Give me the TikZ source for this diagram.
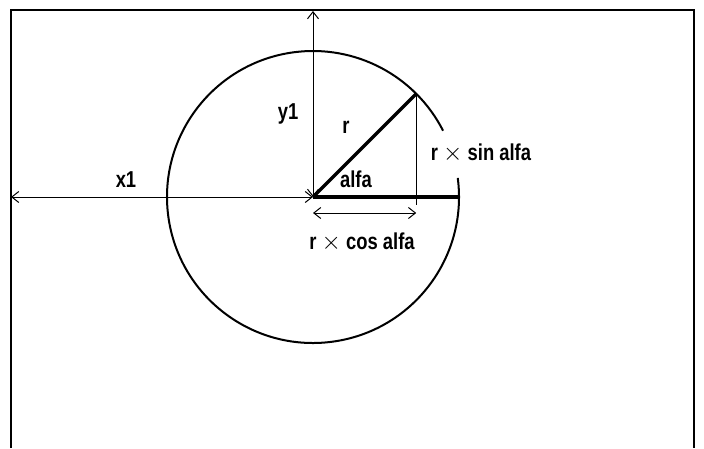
\documentclass[tikz,border=0pt]{standalone}
\usepackage{fontspec}
\newfontfamily\lblfont[FakeStretch=0.8]{Liberation Sans Bold}
\usetikzlibrary{arrows.meta, calc}

\begin{document}
\begin{tikzpicture}[x=1pt, y=1pt,
    every node/.style={font=\lblfont\fontsize{23}{23}\selectfont, inner sep=0pt},
    frame/.style={line width=2.2pt},
    thin/.style={line width=1pt},
    dim/.style={line width=1pt, {Straight Barb[length=7pt, width=11pt]}-{Straight Barb[length=7pt, width=11pt]}},
    bold/.style={line width=3.5pt}]
    \useasboundingbox (0,0) rectangle (704,448);
    \fill[white] (0,0) rectangle (704,448);

    \coordinate (O) at (313,251);
    \coordinate (top) at (313,437);
    \coordinate (left) at (11,251);
    \coordinate (end) at (459,251);
    \path (O) ++(45:146) coordinate (P);
    \coordinate (Q) at (P |- O);

    \draw[frame] (11,0) |- (694,438) -- (694,0);
    \draw[line width=2pt] (O) ++(7.5:146) arc[start angle=7.5, end angle=-333, radius=146];

    \draw[dim] (left) -- (O);
    \draw[dim] (top) -- (O);
    \draw[thin] (P) -- ([yshift=-8]Q);
    \draw[dim] ([yshift=-16]O) -- ([yshift=-16]Q);
    \draw[bold] (O) -- (end);
    \draw[bold] (O) -- (P);

    \node (x1) at (126,268) {x1};
    \node (y1) at (288,334) {y1};
    \node (rad) at (346,321) {r};
    \node (alfa) at (356,269) {alfa};
    \node (sin) at (481,295) {r $\times$ sin alfa};
    \node (cos) at (362,206) {r $\times$ cos alfa};
\end{tikzpicture}
\end{document}
